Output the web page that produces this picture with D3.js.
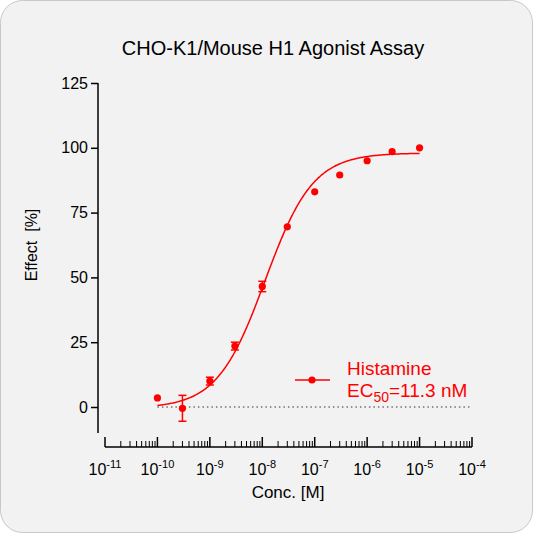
<!DOCTYPE html><html><head><meta charset="utf-8">
<script src="https://cdn.jsdelivr.net/npm/d3@7"></script>
<style>body{margin:0;background:#fff}svg{font-family:Arial,"Liberation Sans",sans-serif}</style></head><body>
<script>
const concs=[1e-10,3e-10,1e-9,3e-9,1e-8,3e-8,1e-7,3e-7,1e-6,3e-6,1e-5];
const effects=[3.5,-0.5,10,23.5,46.5,69.5,83,89.5,95,98.5,100];
const errors=[0,5,1.5,1.5,2,0.8,0.8,0.8,0.8,0.8,0.8];
const yTicks=[0,25,50,75,100,125];
const xTickExps=[-11,-10,-9,-8,-7,-6,-5,-4];
const fit={bottom:-0.5,top:98,ec50:11.3e-9,hill:0.95};
const W=533,H=533;
const svg=d3.select("body").append("svg").attr("width",W).attr("height",H);
svg.append("rect").attr("x",0.5).attr("y",0.5).attr("width",W-1).attr("height",H-1).attr("rx",22).attr("fill","#f2f2f2").attr("stroke","#c8c8c8");
const x=d3.scaleLog().domain([1e-11,1e-4]).range([105,472]);
const y=d3.scaleLinear().domain([0,125]).range([407,83]);
svg.append("text").attr("x",273).attr("y",55).attr("text-anchor","middle").attr("font-size",20).text("CHO-K1/Mouse H1 Agonist Assay");
const ya=svg.append("g").attr("transform","translate(98,0)").call(d3.axisLeft(y).tickValues(yTicks).tickSize(7).tickSizeOuter(0));
ya.select(".domain").attr("d",`M0,${y(125)}V433`).attr("stroke-width",1.5);
ya.selectAll(".tick line").attr("stroke-width",1.5);
ya.selectAll("text").attr("font-size",16).attr("fill","#000");
svg.append("text").attr("transform","translate(37,245) rotate(-90)").attr("text-anchor","middle").attr("font-size",16).text("Effect\u00a0\u00a0[%]");
const xa=svg.append("g").attr("transform","translate(0,447)");
xa.append("line").attr("x1",x(1e-11)).attr("x2",x(1e-4)).attr("stroke","#000").attr("stroke-width",1.5);
const minors=[];xTickExps.slice(0,-1).forEach(e=>{for(let k=2;k<10;k++)minors.push(k*Math.pow(10,e));});
xa.selectAll(".mn").data(minors).enter().append("line").attr("x1",d=>x(d)).attr("x2",d=>x(d)).attr("y1",0).attr("y2",-6).attr("stroke","#000");
xa.selectAll(".mj").data(xTickExps).enter().append("line").attr("x1",d=>x(Math.pow(10,d))).attr("x2",d=>x(Math.pow(10,d))).attr("y1",0).attr("y2",-10).attr("stroke","#000").attr("stroke-width",1.5);
const lbl=xa.selectAll(".lb").data(xTickExps).enter().append("text").attr("x",d=>x(Math.pow(10,d))).attr("y",28).attr("text-anchor","middle").attr("font-size",16);
lbl.append("tspan").text("10");lbl.append("tspan").attr("dy",-7).attr("font-size",11).text(d=>d);
svg.append("text").attr("x",288).attr("y",498).attr("text-anchor","middle").attr("font-size",17).text("Conc. [M]");
svg.append("line").attr("x1",x(1e-10)).attr("x2",x(1e-4)).attr("y1",y(0)).attr("y2",y(0)).attr("stroke","#333").attr("stroke-dasharray","1.5,3");
const hill=c=>fit.bottom+(fit.top-fit.bottom)/(1+Math.pow(fit.ec50/c,fit.hill));
const cs=d3.range(-10,-5+1e-9,0.02).map(e=>Math.pow(10,e));
svg.append("path").attr("d",d3.line().x(c=>x(c)).y(c=>y(hill(c)))(cs)).attr("fill","none").attr("stroke","red").attr("stroke-width",1.5);
const red="#f00";
concs.forEach((c,i)=>{if(errors[i]>1){const g=svg.append("g").attr("stroke",red).attr("stroke-width",1.5);
g.append("line").attr("x1",x(c)).attr("x2",x(c)).attr("y1",y(effects[i]-errors[i])).attr("y2",y(effects[i]+errors[i]));
[effects[i]-errors[i],effects[i]+errors[i]].forEach(v=>g.append("line").attr("x1",x(c)-4).attr("x2",x(c)+4).attr("y1",y(v)).attr("y2",y(v)));}});
svg.selectAll(".pt").data(concs).enter().append("circle").attr("cx",d=>x(d)).attr("cy",(d,i)=>y(effects[i])).attr("r",3.6).attr("fill",red);
svg.append("line").attr("x1",295).attr("x2",330).attr("y1",380).attr("y2",380).attr("stroke",red).attr("stroke-width",1.5);
svg.append("circle").attr("cx",312).attr("cy",380).attr("r",3.6).attr("fill",red);
svg.append("text").attr("x",347).attr("y",375).attr("font-size",19).attr("fill",red).text("Histamine");
const ec=svg.append("text").attr("x",347).attr("y",397).attr("font-size",19).attr("fill",red);
ec.append("tspan").text("EC");ec.append("tspan").attr("dy",5).attr("font-size",14).text("50");ec.append("tspan").attr("dy",-5).text("=11.3 nM");
</script></body></html>
